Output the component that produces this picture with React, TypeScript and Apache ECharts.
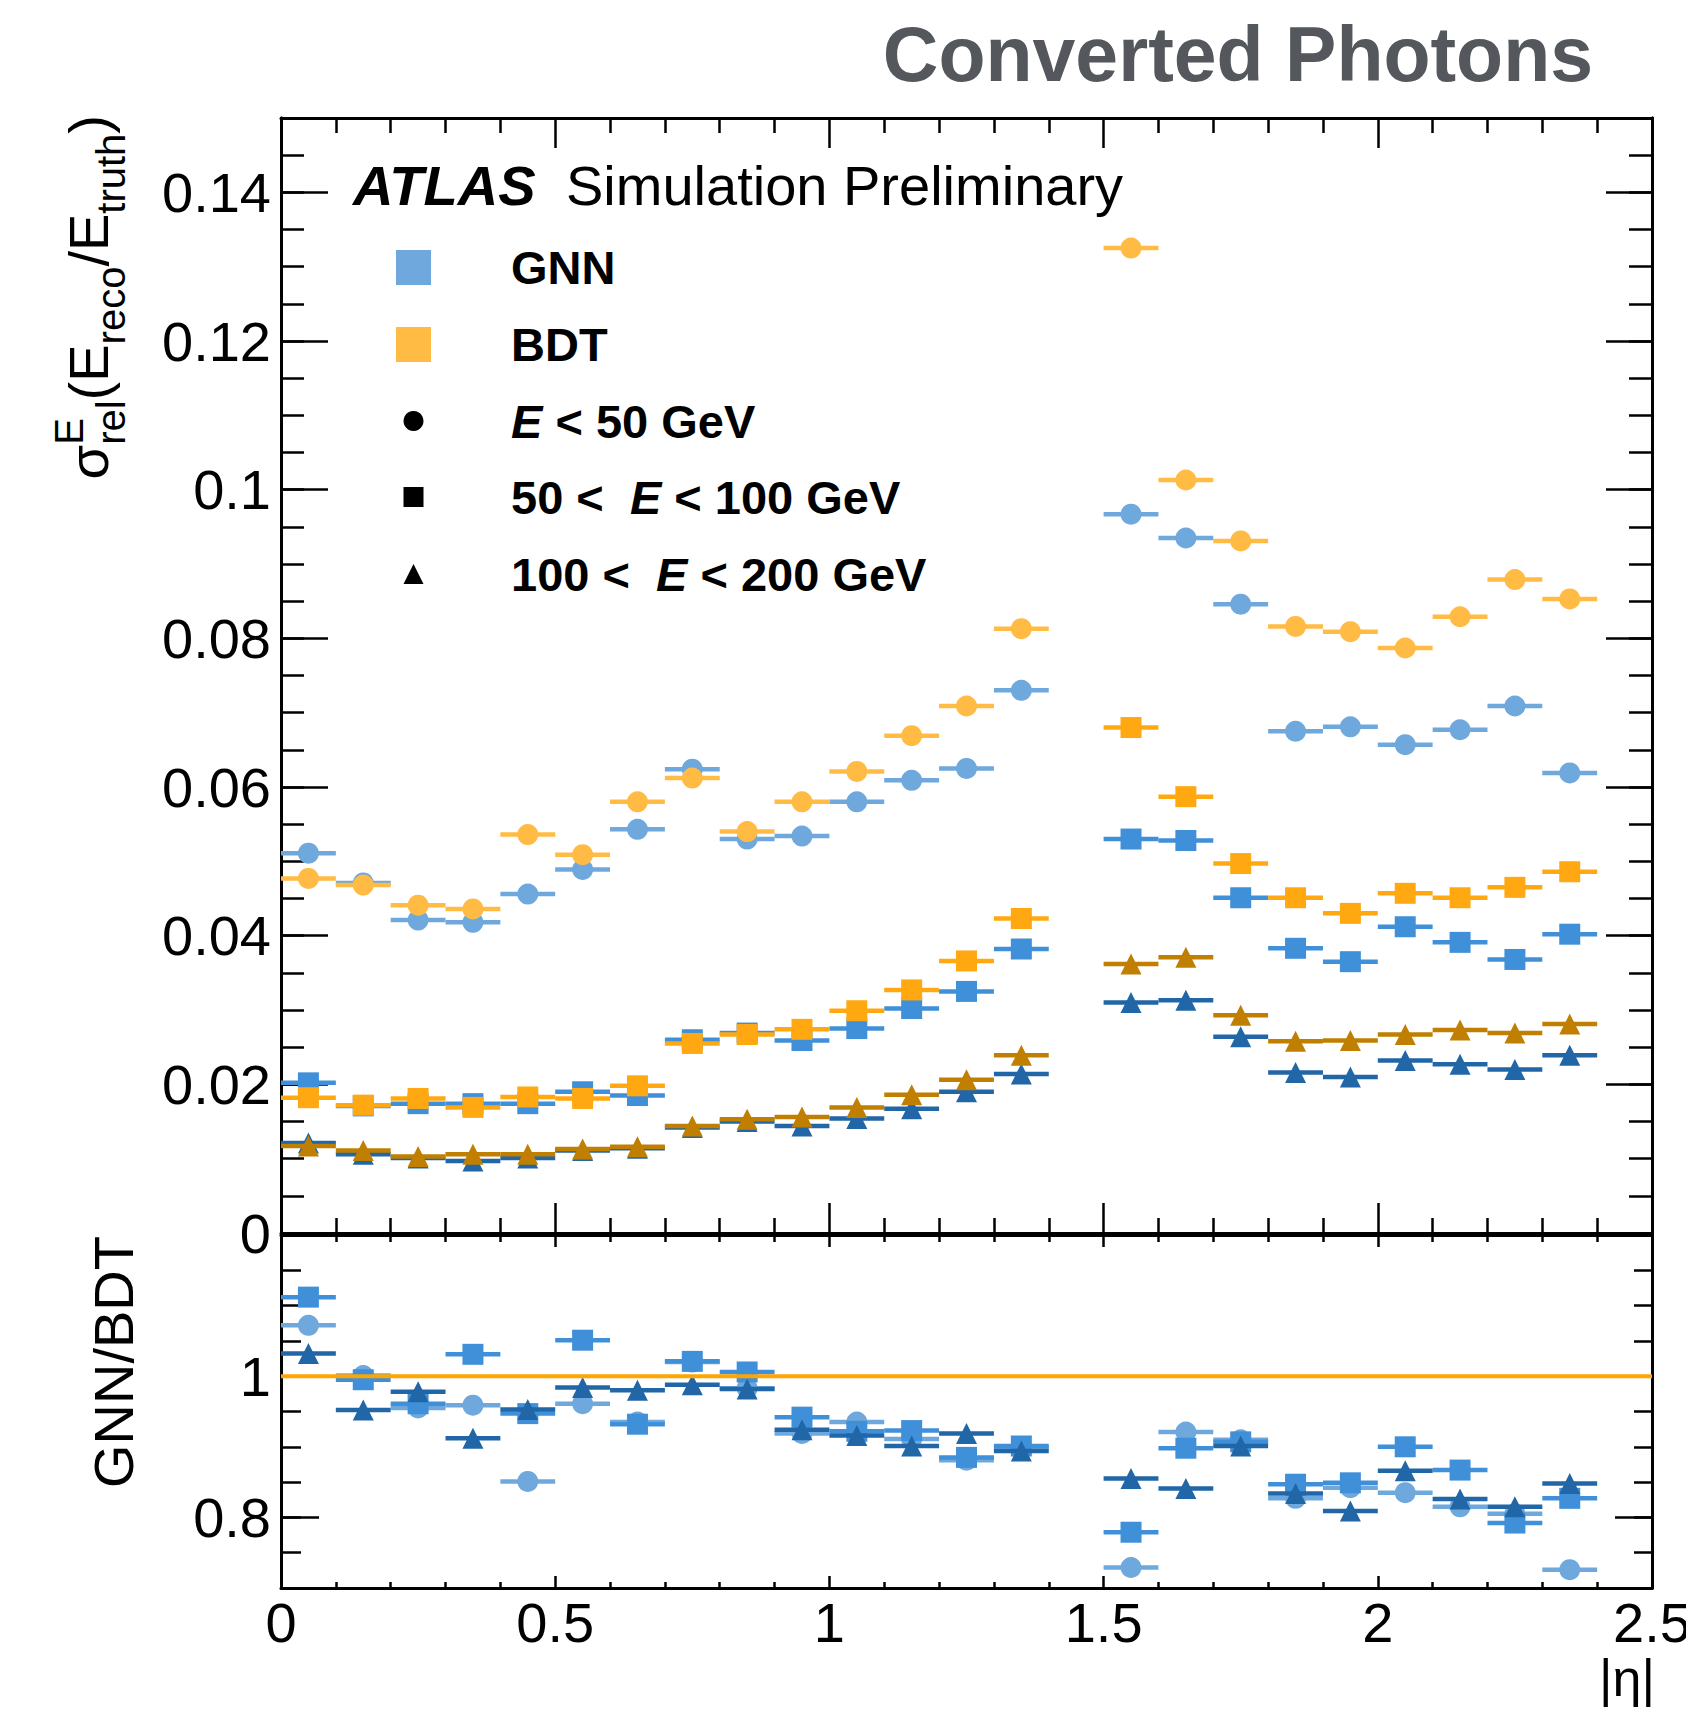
import { useEffect, useRef } from "react";
import * as echarts from "echarts";

const FONT = '"Liberation Sans", Helvetica, Arial, sans-serif';

// |eta| bin centres: 0.1 wide bins, the 1.4-1.5 crack bin is empty
const etaCenters = [
  0.05, 0.15, 0.25, 0.35, 0.45, 0.55, 0.65, 0.75, 0.85, 0.95, 1.05, 1.15, 1.25, 1.35,
  1.55, 1.65, 1.75, 1.85, 1.95, 2.05, 2.15, 2.25, 2.35,
];
const etaBinHalfWidth = 0.05;

// relative energy resolution, E < 50 GeV
const gnnLowE = [
  0.0511, 0.0471, 0.0421, 0.0418, 0.0456, 0.0489, 0.0543, 0.0624, 0.053, 0.0534, 0.058, 0.0609, 0.0625, 0.073,
  0.0967, 0.0935, 0.0846, 0.0675, 0.0681, 0.0657, 0.0677, 0.0709, 0.0619,
];
const bdtLowE = [
  0.0477, 0.0468, 0.0441, 0.0436, 0.0536, 0.0509, 0.058, 0.0612, 0.054, 0.058, 0.0621, 0.0669, 0.0709, 0.0813,
  0.1325, 0.1013, 0.0931, 0.0816, 0.0809, 0.0787, 0.0829, 0.0879, 0.0853,
];
// 50 < E < 100 GeV
const gnnMidE = [
  0.0202, 0.0171, 0.0174, 0.0174, 0.0174, 0.019, 0.0185, 0.026, 0.0269, 0.0259, 0.0275, 0.0302, 0.0325, 0.0382,
  0.053, 0.0528, 0.0451, 0.0383, 0.0365, 0.0412, 0.0391, 0.0368, 0.0402,
];
const bdtMidE = [
  0.0182, 0.0172, 0.0181, 0.0169, 0.0183, 0.0181, 0.0198, 0.0255, 0.0267, 0.0274, 0.0299, 0.0327, 0.0366, 0.0423,
  0.068, 0.0587, 0.0497, 0.0451, 0.043, 0.0457, 0.0451, 0.0465, 0.0486,
];
// 100 < E < 200 GeV
const gnnHighE = [
  0.0121, 0.0106, 0.0101, 0.0097, 0.0101, 0.0111, 0.0114, 0.0142, 0.015, 0.0144, 0.0154, 0.0167, 0.019, 0.0214,
  0.031, 0.0313, 0.0264, 0.0216, 0.021, 0.0232, 0.0227, 0.022, 0.0239,
];
const bdtHighE = [
  0.0117, 0.0111, 0.0103, 0.0106, 0.0106, 0.0113, 0.0116, 0.0144, 0.0153, 0.0156, 0.0169, 0.0186, 0.0206, 0.0239,
  0.0362, 0.0371, 0.0293, 0.0258, 0.0259, 0.0267, 0.0273, 0.0269, 0.0281,
];

// GNN/BDT ratios
const ratioLowE = [
  1.072, 1.001, 0.955, 0.959, 0.851, 0.961, 0.935, 1.02, 0.983, 0.919, 0.935, 0.911, 0.881, 0.899,
  0.729, 0.921, 0.91, 0.827, 0.842, 0.835, 0.815, 0.805, 0.726,
];
const ratioMidE = [
  1.112, 0.995, 0.961, 1.031, 0.947, 1.051, 0.932, 1.021, 1.006, 0.942, 0.922, 0.923, 0.885, 0.901,
  0.779, 0.898, 0.907, 0.847, 0.849, 0.9, 0.867, 0.792, 0.827,
];
const ratioHighE = [
  1.032, 0.952, 0.978, 0.912, 0.953, 0.984, 0.98, 0.988, 0.982, 0.924, 0.916, 0.901, 0.919, 0.894,
  0.855, 0.841, 0.901, 0.834, 0.809, 0.866, 0.826, 0.815, 0.848,
];

// tick labels
const xTickValues = [0, 0.5, 1, 1.5, 2, 2.5];
const xTickLabels = ["0", "0.5", "1", "1.5", "2", "2.5"];
const mainYTickValues = [0, 0.02, 0.04, 0.06, 0.08, 0.1, 0.12, 0.14];
const mainYTickLabels = ["0", "0.02", "0.04", "0.06", "0.08", "0.1", "0.12", "0.14"];
const ratioYTickValues = [0.8, 1];
const ratioYTickLabels = ["0.8", "1"];

const COLORS = {
  gnnLow: "#6fa8dc",
  gnnMid: "#4090d9",
  gnnHigh: "#2166a6",
  bdtLow: "#ffbb44",
  bdtMid: "#ffa812",
  bdtHigh: "#c07f00",
  ratioLine: "#ffa500",
  title: "#54575c",
};

const W = 1686;
const H = 1711;
const PLOT_LEFT = 281;
const PLOT_RIGHT = 1652;
const MAIN_TOP = 118;
const MAIN_BOTTOM = 1233;
const RATIO_TOP = 1235;
const RATIO_BOTTOM = 1588;

const TICK_FONT = 56;
const MARKER = 21;

let measureCtx: CanvasRenderingContext2D | null = null;
function measure(text: string, size: number, weight = "normal", style = "normal") {
  if (!measureCtx) measureCtx = document.createElement("canvas").getContext("2d");
  if (!measureCtx) return text.length * size * 0.55;
  measureCtx.font = `${style} ${weight} ${size}px ${FONT}`;
  return measureCtx.measureText(text).width;
}

function lookupLabel(values: number[], labels: string[]) {
  return (v: number) => {
    const i = values.findIndex((t) => Math.abs(t - v) < 1e-9);
    return i >= 0 ? labels[i] : "";
  };
}

type Piece = { text: string; size: number; shift: number };

// Lays out a title with sub/superscripts along a baseline, then rotates it to read bottom-to-top.
function rotatedTitle(slots: Piece[][], baselineX: number, endY: number) {
  const children: any[] = [];
  let cursor = 0;
  for (const slot of slots) {
    let adv = 0;
    for (const p of slot) {
      adv = Math.max(adv, measure(p.text, p.size));
      children.push({
        type: "text",
        x: cursor,
        y: p.shift - 0.3465 * p.size,
        style: {
          text: p.text,
          fontSize: p.size,
          fontFamily: FONT,
          fill: "#000",
          align: "left",
          verticalAlign: "middle",
        },
      });
    }
    cursor += adv;
  }
  return { type: "group", x: baselineX, y: endY + cursor, rotation: Math.PI / 2, children };
}

function markerShape(shape: string, cx: number, cy: number, size: number, color: string) {
  const h = size / 2;
  if (shape === "circle") return { type: "circle", shape: { cx, cy, r: h }, style: { fill: color } };
  if (shape === "square")
    return { type: "rect", shape: { x: cx - h, y: cy - h, width: size, height: size }, style: { fill: color } };
  return {
    type: "polygon",
    shape: { points: [[cx, cy - h], [cx + h, cy + h], [cx - h, cy + h]] },
    style: { fill: color },
  };
}

function pointSeries(values: number[], color: string, shape: string, xAxisIndex: number, yAxisIndex: number) {
  return {
    type: "custom",
    xAxisIndex,
    yAxisIndex,
    silent: true,
    data: etaCenters.map((x, i) => [x, values[i]]),
    renderItem: (_params: any, api: any) => {
      const x = api.value(0);
      const y = api.value(1);
      const c = api.coord([x, y]);
      const left = api.coord([x - etaBinHalfWidth, y])[0];
      const right = api.coord([x + etaBinHalfWidth, y])[0];
      return {
        type: "group",
        children: [
          { type: "line", shape: { x1: left, y1: c[1], x2: right, y2: c[1] }, style: { stroke: color, lineWidth: 4.5 } },
          markerShape(shape, c[0], c[1], MARKER, color),
        ],
      };
    },
  };
}

const lineStyle = { color: "#000", width: 3 };
const tickStyle = { color: "#000", width: 2.5 };

function xAxis(gridIndex: number, position: string, major: number, minor: number, labels: boolean) {
  return {
    type: "value",
    gridIndex,
    position,
    min: 0,
    max: 2.5,
    interval: 0.5,
    axisLine: { show: true, onZero: false, lineStyle },
    axisTick: { show: true, inside: true, length: major, lineStyle: tickStyle },
    minorTick: { show: true, splitNumber: 5, length: minor, lineStyle: tickStyle },
    splitLine: { show: false },
    minorSplitLine: { show: false },
    axisLabel: labels
      ? {
          show: true,
          fontSize: TICK_FONT,
          fontFamily: FONT,
          color: "#000",
          margin: 6,
          formatter: lookupLabel(xTickValues, xTickLabels),
        }
      : { show: false },
  };
}

function yAxis(gridIndex: number, position: string, min: number, max: number, extra: any, len: number, label: any) {
  return {
    type: "value",
    gridIndex,
    position,
    min,
    max,
    ...extra,
    axisLine: { show: true, onZero: false, lineStyle },
    axisTick: { show: true, inside: true, length: len, lineStyle: tickStyle, ...(extra.tickValues ? { customValues: extra.tickValues } : {}) },
    splitLine: { show: false },
    axisLabel: label ?? { show: false },
  };
}

function buildOption() {
  const mainLabel = {
    show: true,
    fontSize: TICK_FONT,
    fontFamily: FONT,
    color: "#000",
    margin: 10,
    showMaxLabel: false,
    formatter: lookupLabel(mainYTickValues, mainYTickLabels),
  };
  const ratioLabel = {
    show: true,
    fontSize: TICK_FONT,
    fontFamily: FONT,
    color: "#000",
    margin: 10,
    customValues: ratioYTickValues,
    formatter: lookupLabel(ratioYTickValues, ratioYTickLabels),
  };

  const F = 56;
  const f = 40;
  const yTitle = rotatedTitle(
    [
      [{ text: "σ", size: F, shift: 0 }],
      [
        { text: "E", size: f, shift: -0.45 * F },
        { text: "rel", size: f, shift: 0.3 * F },
      ],
      [{ text: "(E", size: F, shift: 0 }],
      [{ text: "reco", size: f, shift: 0.3 * F }],
      [{ text: "/E", size: F, shift: 0 }],
      [{ text: "truth", size: f, shift: 0.3 * F }],
      [{ text: ")", size: F, shift: 0 }],
    ],
    108,
    115
  );
  const ratioTitle = rotatedTitle([[{ text: "GNN/BDT", size: 56, shift: 0 }]], 133, 1236);

  const txt = (x: number, y: number, style: any) => ({
    type: "text",
    x,
    y,
    style: { fontFamily: FONT, fill: "#000", verticalAlign: "middle", align: "left", ...style },
  });

  const LEG_X = 413.5;
  const LEG_TEXT_X = 511;
  const legRows = [267.5, 344.5, 421, 497, 574];
  const legFont = 47;
  const b = { fontSize: legFont, fontWeight: "bold", fontFamily: FONT, fill: "#000" };
  const bi = { ...b, fontStyle: "italic" };

  const graphic: any[] = [
    txt(1593, 54, { text: "Converted Photons", fontSize: 77, fontWeight: "bold", fill: COLORS.title, align: "right" }),
    txt(353, 185, { text: "ATLAS", fontSize: 56, fontWeight: "bold", fontStyle: "italic" }),
    txt(566, 185, { text: "Simulation Preliminary", fontSize: 56 }),
    { type: "rect", shape: { x: LEG_X - 17.5, y: legRows[0] - 17.5, width: 35, height: 35 }, style: { fill: COLORS.gnnLow } },
    { type: "rect", shape: { x: LEG_X - 17.5, y: legRows[1] - 17.5, width: 35, height: 35 }, style: { fill: COLORS.bdtLow } },
    markerShape("circle", LEG_X, legRows[2], 20, "#000"),
    markerShape("square", LEG_X, legRows[3], 20, "#000"),
    markerShape("triangle", LEG_X, legRows[4], 20, "#000"),
    txt(LEG_TEXT_X, legRows[0], { text: "GNN", ...b }),
    txt(LEG_TEXT_X, legRows[1], { text: "BDT", ...b }),
    txt(LEG_TEXT_X, legRows[2], { text: "{i|E}{n| < 50 GeV}", rich: { i: bi, n: b } }),
    txt(LEG_TEXT_X, legRows[3], { text: "{n|50 <  }{i|E}{n| < 100 GeV}", rich: { i: bi, n: b } }),
    txt(LEG_TEXT_X, legRows[4], { text: "{n|100 <  }{i|E}{n| < 200 GeV}", rich: { i: bi, n: b } }),
    yTitle,
    ratioTitle,
    txt(PLOT_RIGHT + 3, 1678, { text: "|η|", fontSize: 52, align: "right" }),
  ];

  return {
    animation: false,
    backgroundColor: "#ffffff",
    textStyle: { fontFamily: FONT },
    grid: [
      {
        left: PLOT_LEFT,
        top: MAIN_TOP,
        width: PLOT_RIGHT - PLOT_LEFT,
        height: MAIN_BOTTOM - MAIN_TOP,
        containLabel: false,
        outerBoundsMode: "none",
      },
      {
        left: PLOT_LEFT,
        top: RATIO_TOP,
        width: PLOT_RIGHT - PLOT_LEFT,
        height: RATIO_BOTTOM - RATIO_TOP,
        containLabel: false,
        outerBoundsMode: "none",
      },
    ],
    xAxis: [
      xAxis(0, "bottom", 30, 15, false),
      xAxis(0, "top", 30, 15, false),
      xAxis(1, "bottom", 12, 6, true),
      xAxis(1, "top", 12, 7, false),
    ],
    yAxis: [
      yAxis(0, "left", 0, 0.15, { interval: 0.005 }, 23, null),
      yAxis(0, "left", 0, 0.15, { interval: 0.02 }, 47, mainLabel),
      yAxis(0, "right", 0, 0.15, { interval: 0.005 }, 23, null),
      yAxis(0, "right", 0, 0.15, { interval: 0.02 }, 46, null),
      yAxis(1, "left", 0.7, 1.2, { interval: 0.05 }, 20, null),
      yAxis(1, "left", 0.7, 1.2, { tickValues: ratioYTickValues }, 38, ratioLabel),
      yAxis(1, "right", 0.7, 1.2, { interval: 0.05 }, 18, null),
      yAxis(1, "right", 0.7, 1.2, { tickValues: ratioYTickValues }, 37, null),
    ],
    series: [
      pointSeries(gnnLowE, COLORS.gnnLow, "circle", 0, 0),
      pointSeries(bdtLowE, COLORS.bdtLow, "circle", 0, 0),
      pointSeries(gnnMidE, COLORS.gnnMid, "square", 0, 0),
      pointSeries(bdtMidE, COLORS.bdtMid, "square", 0, 0),
      pointSeries(gnnHighE, COLORS.gnnHigh, "triangle", 0, 0),
      pointSeries(bdtHighE, COLORS.bdtHigh, "triangle", 0, 0),
      {
        type: "line",
        xAxisIndex: 2,
        yAxisIndex: 4,
        silent: true,
        symbol: "none",
        data: [
          [0, 1],
          [2.5, 1],
        ],
        lineStyle: { color: COLORS.ratioLine, width: 4 },
      },
      pointSeries(ratioLowE, COLORS.gnnLow, "circle", 2, 4),
      pointSeries(ratioMidE, COLORS.gnnMid, "square", 2, 4),
      pointSeries(ratioHighE, COLORS.gnnHigh, "triangle", 2, 4),
    ],
    graphic,
  };
}

export default function App() {
  const ref = useRef<HTMLDivElement>(null);
  useEffect(() => {
    if (!ref.current) return;
    const chart = echarts.init(ref.current, null, { renderer: "svg" });
    chart.setOption(buildOption() as any);
    return () => chart.dispose();
  }, []);
  return (
    <div
      ref={ref}
      style={{ position: "absolute", left: 0, top: 0, width: W, height: H, background: "#fff" }}
    />
  );
}
